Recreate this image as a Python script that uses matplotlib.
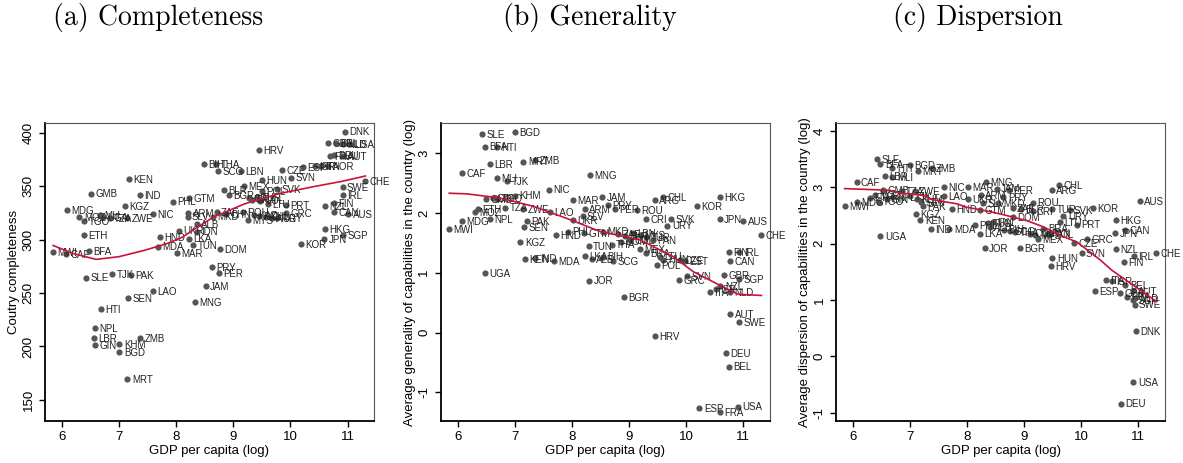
import matplotlib
matplotlib.use("Agg")
import matplotlib.pyplot as plt

plt.rcParams['font.family'] = ['Liberation Sans', 'DejaVu Sans']
plt.rcParams['axes.unicode_minus'] = False

# ---------------- Panel (a): Completeness ----------------
a_labels = ["MWI","CAF","BFA","ETH","TGO","MOZ","MDG","GMB","KEN","IND","KGZ","MLI","UGA","TZA","ZWE",
            "NIC","PHL","UKR","HND","MDA","MAR","GTM","ARM","SLV","ALB","IDN","LKA","TUN","DOM","ZAF",
            "MKD","CHN","ROU","MYS","BIH","THA","SCG","LBN","HUN","CZE","SVN","MEX","BLR","BGR","POL",
            "SVK","CRI","BRA","TUR","COL","LTU","PRT","GRC","CHL","ARG","URY","PAN","KAZ","JAM","MNG",
            "PER","PRY","SLE","TJK","PAK","LAO","SEN","HTI","NPL","LBR","GIN","KHM","ZMB","BGD","MRT",
            "DNK","GBR","BEL","NLD","USA","FRA","DEU","AUT","ESP","ISR","ITA","NOR","HRV","CHE","SWE",
            "IRL","FIN","NZL","CAN","AUS","HKG","SGP","JPN","KOR"]
a_gdp = [5.85,6.07,6.48,6.39,6.39,6.31,6.09,6.51,7.18,7.37,7.11,6.67,6.72,6.84,7.14,
         7.59,7.94,8.05,7.72,7.68,8.02,8.23,8.21,8.20,8.36,8.36,8.23,8.30,8.77,8.71,
         8.65,8.88,9.17,9.26,8.49,8.70,8.74,9.13,9.50,9.85,10.01,9.19,8.83,8.93,9.50,
         9.76,9.28,9.33,9.42,9.47,9.61,9.92,9.92,9.57,9.67,9.77,9.45,9.36,8.52,8.33,
         8.75,8.63,6.42,6.88,7.21,7.60,7.16,6.69,6.58,6.56,6.58,7.01,7.37,7.01,7.15,
         10.95,10.66,10.80,10.92,11.04,10.69,10.76,10.92,10.22,10.42,10.53,10.66,9.45,11.31,10.91,
         10.92,10.76,10.60,10.76,11.01,10.60,10.92,10.59,10.18]
a_val = [288,286.5,289,304,317,321,327.5,343,357,342,331,323,321,320.5,320.5,
         324,335.5,308.5,302,293.5,287,339,325,321.5,314.5,307.5,301,295,291,326,
         321.5,324,326,318.5,370.5,370.5,364,364,355.5,365,358,350,346.5,341.5,345,
         347.5,339,337.5,340,336.5,333,332,325,321.5,320,320,322,323,256.5,241.5,
         269,274.5,264.5,268,267,251.5,245,235,217,207.5,201,202.5,207.5,195,169.5,
         401,390,390,389.5,389.5,378.5,379,378.5,367.5,368.5,368.5,369,384,354.5,349,
         341.5,334,331,326,324,309.5,304.5,300.5,296]
a_fit_x = [5.85,6.2,6.6,7.0,7.45,7.85,8.1,8.3,8.65,9.2,9.8,10.4,10.9,11.31]
a_fit_y = [294.5,287,281.5,284,290,296.5,302,309,321,333.5,343,349.5,354.5,359.5]

# ---------------- Panel (b): Generality ----------------
b_labels = ["SLE","BGD","BFA","HTI","LBR","MRT","ZMB","CAF","MLI","TJK","NIC","KHM","GMB","GIN","TGO",
            "MAR","ETH","MOZ","TZA","ZWE","LAO","MDG","NPL","MWI","PAK","SEN","UKR","KGZ","HND","KEN",
            "IND","MDA","UGA","ARM","SLV","PHL","GTM","TUN","LKA","ALB","BIH","SCG","JOR","MNG","JAM",
            "PRY","PER","ROU","CHL","ARG","KOR","HKG","CRI","SVK","URY","JPN","AUS","CHE","FIN","IRL",
            "CAN","GBR","SGP","GRC","SVN","MKD","ZAF","BLR","THA","LBN","PAN","TUR","MYS","MEX","BRA",
            "COL","DOM","LTU","HUN","POL","CZE","EST","HRV","BGR","NZL","ISR","ITA","NLD","AUT","SWE",
            "DEU","BEL","ESP","FRA","USA"]
b_gdp = [6.41,6.99,6.47,6.67,6.56,7.14,7.35,6.06,6.67,6.86,7.59,6.99,6.49,6.60,6.68,
         8.01,6.35,6.29,6.82,7.14,7.61,6.06,6.56,5.84,7.20,7.15,8.01,7.09,7.71,7.17,
         7.35,7.67,6.47,8.22,8.18,7.92,8.20,8.29,8.22,8.34,8.54,8.72,8.30,8.31,8.52,
         8.63,8.75,9.14,9.59,9.45,10.18,10.59,9.29,9.74,9.67,10.59,11.00,11.32,10.75,10.93,
         10.77,10.66,10.93,9.88,10.01,8.54,8.80,8.92,8.69,9.07,9.42,9.30,9.18,9.19,9.29,
         9.02,8.85,9.54,9.60,9.48,9.89,9.98,9.45,8.91,10.60,10.52,10.42,10.77,10.77,10.92,
         10.69,10.75,10.23,10.59,10.90]
b_val = [3.32,3.36,3.11,3.10,2.82,2.86,2.89,2.67,2.59,2.54,2.39,2.29,2.23,2.25,2.24,
         2.21,2.06,2.01,2.09,2.07,2.02,1.86,1.90,1.73,1.86,1.76,1.88,1.51,1.63,1.23,
         1.24,1.20,0.99,2.06,1.95,1.69,1.66,1.44,1.28,1.23,1.27,1.20,0.87,2.64,2.26,
         2.13,2.07,2.05,2.27,2.21,2.12,2.26,1.90,1.90,1.79,1.90,1.87,1.63,1.34,1.34,
         1.20,0.96,0.90,0.88,0.95,1.69,1.64,1.62,1.47,1.67,1.55,1.60,1.63,1.39,1.33,
         1.55,1.52,1.27,1.22,1.13,1.21,1.20,-0.06,0.59,0.78,0.72,0.68,0.68,0.31,0.17,
         -0.35,-0.57,-1.27,-1.33,-1.24]
b_fit_x = [5.84,6.15,6.73,7.32,7.90,8.49,9.19,9.77,10.12,10.59,10.91,11.32]
b_fit_y = [2.33,2.32,2.25,2.11,1.91,1.69,1.55,1.27,1.02,0.79,0.64,0.62]

# ---------------- Panel (c): Dispersion ----------------
c_labels = ["SLE","BFA","HTI","BGD","MRT","ZMB","LBR","MLI","CAF","GMB","MWI","MDG","ETH","MOZ","GIN",
            "NPL","TZA","TGO","ZWE","TJK","KHM","NIC","MAR","LAO","UKR","PAK","SEN","HND","KGZ","KEN",
            "IND","MDA","PHL","LKA","UGA","JOR","MNG","JAM","PER","ARM","PRY","CHL","ARG","ROU","TUR",
            "SVK","URY","LTU","PRT","DOM","GTM","SLV","MKD","ZAF","BLR","CRI","BRA","MEX","BGR","TUN",
            "IRN","ALB","BIH","SCG","THA","COL","POL","PAN","MYS","GRC","CZE","SVN","HUN","HRV","KOR",
            "AUS","HKG","CAN","JPN","NZL","IRL","FIN","CHE","ITA","ISR","BEL","ESP","GBR","FRA","AUT",
            "NLD","SGP","SWE","DNK","USA","DEU"]
c_gdp = [6.42,6.48,6.69,7.00,7.14,7.38,6.56,6.69,6.06,6.52,5.85,6.06,6.29,6.38,6.59,
         6.70,6.85,6.45,7.08,7.00,7.12,7.59,8.02,7.59,8.02,7.22,7.20,7.73,7.10,7.18,
         7.36,7.69,8.14,8.23,6.48,8.31,8.33,8.52,8.74,8.24,8.64,9.62,9.49,9.16,9.49,
         9.80,9.69,9.63,9.93,8.81,8.23,8.28,8.55,8.80,8.95,9.15,9.34,9.25,8.93,8.37,
         8.45,8.40,8.65,8.75,8.85,9.10,9.46,9.40,9.20,10.10,9.87,10.01,9.50,9.47,10.21,
         11.03,10.62,10.78,10.60,10.62,10.93,10.75,11.32,10.44,10.54,10.78,10.25,10.69,10.81,10.92,
         10.95,10.92,10.94,10.97,10.92,10.70]
c_val = [3.50,3.41,3.35,3.40,3.29,3.34,3.20,3.19,3.10,2.96,2.67,2.74,2.82,2.86,2.80,
         2.83,2.93,2.75,2.93,2.85,2.80,3.00,3.00,2.85,2.79,2.67,2.74,2.61,2.52,2.42,
         2.26,2.26,2.33,2.18,2.13,1.93,3.10,2.98,2.96,2.87,2.83,3.04,2.96,2.73,2.61,
         2.60,2.49,2.39,2.34,2.47,2.60,2.72,2.72,2.63,2.62,2.58,2.27,2.08,1.93,2.37,
         2.38,2.30,2.25,2.22,2.20,2.18,2.17,2.18,2.16,2.08,2.01,1.83,1.74,1.60,2.64,
         2.76,2.42,2.24,2.19,1.91,1.78,1.68,1.84,1.36,1.33,1.26,1.16,1.12,1.06,1.16,
         1.03,1.00,0.92,0.45,-0.46,-0.84]
c_fit_x = [5.85,6.64,6.82,7.23,7.41,7.82,7.99,8.40,8.58,9.05,9.34,9.63,9.93,10.34,10.54,11.33]
c_fit_y = [2.98,2.95,2.90,2.86,2.78,2.71,2.65,2.57,2.53,2.41,2.30,2.15,2.03,1.71,1.53,0.97]

titles = ["(a) Completeness", "(b) Generality", "(c) Dispersion"]
title_x = [158, 590, 978]
ylabels = ["Coutry completeness",
           "Average generality of capabilities in the country (log)",
           "Average dispersion of capabilities in the country (log)"]
xlabel = "GDP per capita (log)"
x_ticks = [6, 7, 8, 9, 10, 11]
y_ticks = [[150, 200, 250, 300, 350, 400], [-1, 0, 1, 2, 3], [-1, 0, 1, 2, 3, 4]]

W, H = 1183, 463
fig = plt.figure(figsize=(W / 100, H / 100), dpi=100)

boxes = [(45, 374), (440.7, 770), (836, 1165.3)]
top_px, bot_px = 123.3, 421
xlims = [(5.708, 11.46), (5.69, 11.47), (5.70, 11.48)]
ylims = [(130.3, 408.8), (-1.48, 3.50), (-1.15, 4.14)]

panels = [(a_labels, a_gdp, a_val, a_fit_x, a_fit_y),
          (b_labels, b_gdp, b_val, b_fit_x, b_fit_y),
          (c_labels, c_gdp, c_val, c_fit_x, c_fit_y)]

dot_color = "#555555"
line_color = "#c8143c"

for i, (labs, xs, ys, fx, fy) in enumerate(panels):
    l, r = boxes[i]
    ax = fig.add_axes([l / W, 1 - bot_px / H, (r - l) / W, (bot_px - top_px) / H])
    ax.scatter(xs, ys, s=20, color=dot_color, zorder=3, linewidths=0)
    for lab, x, y in zip(labs, xs, ys):
        ax.annotate(lab, (x, y), xytext=(3.2, -0.6), textcoords="offset points",
                    fontsize=7, va="center", ha="left", color="#222222", zorder=4)
    ax.plot(fx, fy, color=line_color, lw=1.2, zorder=5)
    ax.set_xlim(*xlims[i])
    ax.set_ylim(*ylims[i])
    ax.set_xticks(x_ticks)
    ax.set_yticks(y_ticks[i])
    ax.tick_params(axis="both", direction="out", length=4, width=1, labelsize=9.5, colors="black")
    for lbl in ax.get_yticklabels():
        lbl.set_rotation(90)
        lbl.set_va("center")
    ax.set_xlabel(xlabel, fontsize=9.5, labelpad=1)
    ax.set_ylabel(ylabels[i], fontsize=9.5, labelpad=2)
    ax.spines["left"].set_linewidth(1.3)
    ax.spines["bottom"].set_linewidth(1.3)
    ax.spines["top"].set_linewidth(0.8)
    ax.spines["right"].set_linewidth(0.8)
    ax.spines["top"].set_color("#555555")
    ax.spines["right"].set_color("#555555")
    fig.text(title_x[i] / W, 1 - 18 / H, titles[i], fontsize=20, family="cmr10",
             ha="center", va="center")

fig.savefig("out.png", dpi=100)
